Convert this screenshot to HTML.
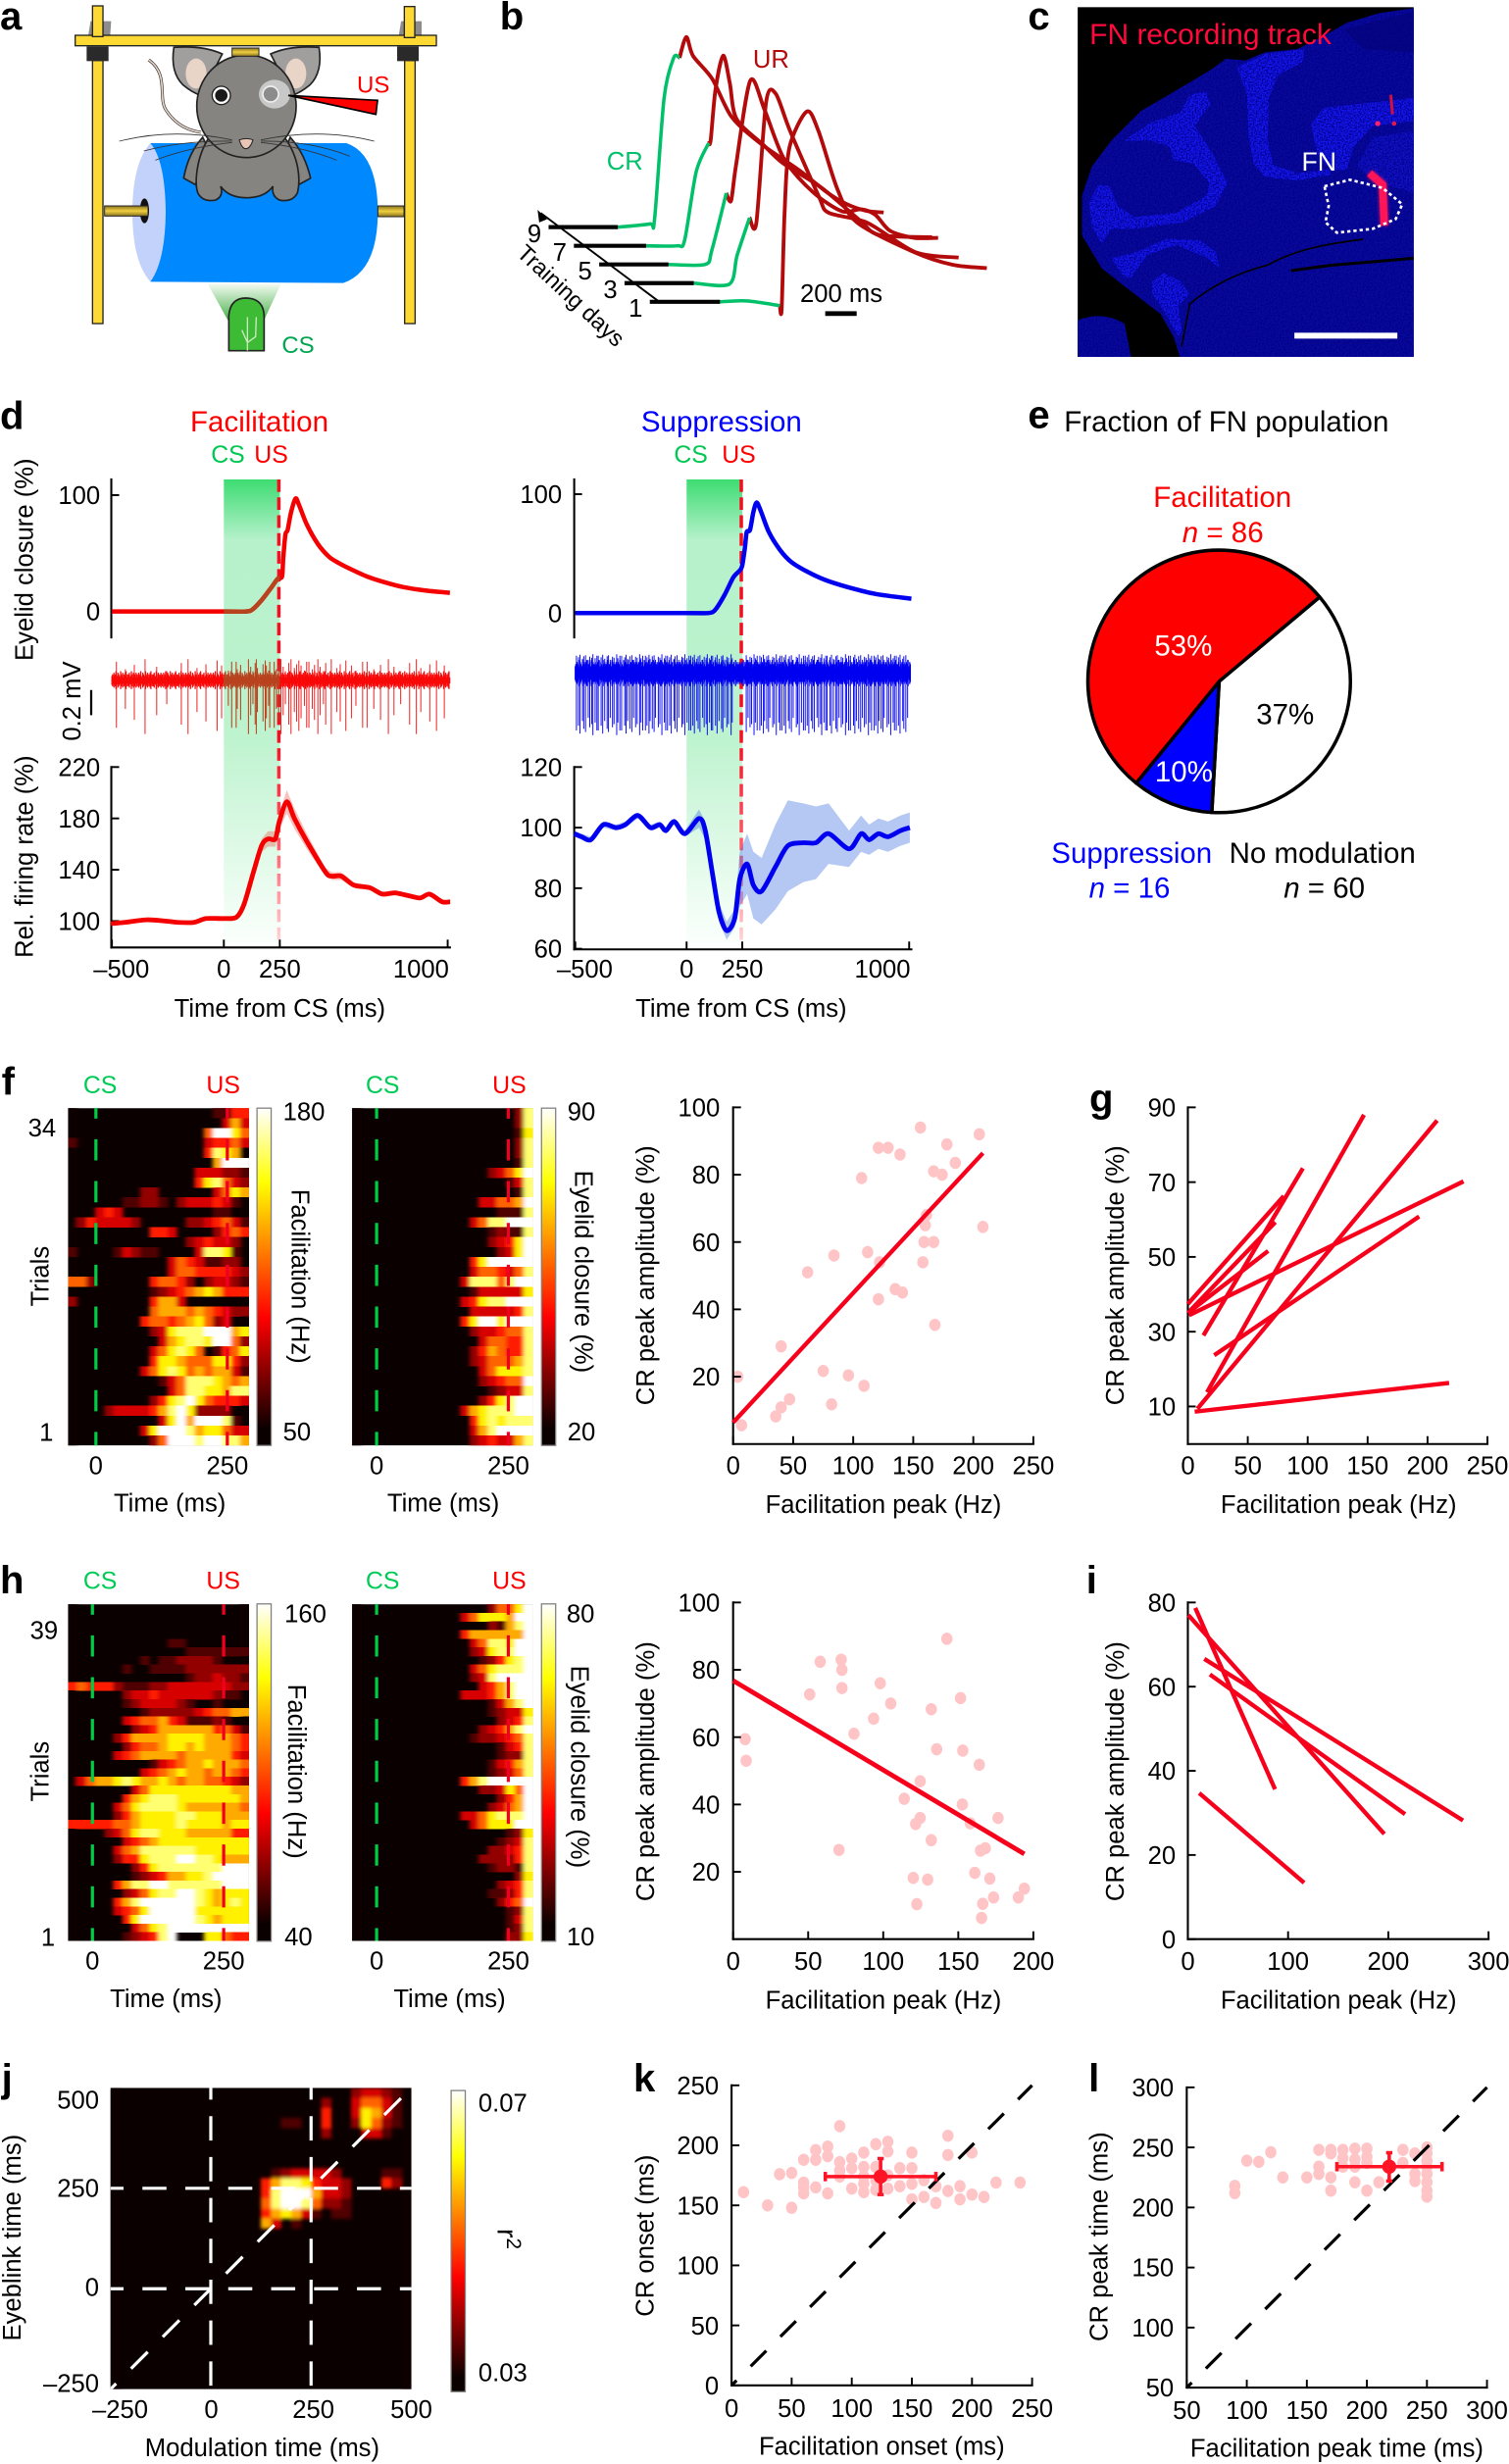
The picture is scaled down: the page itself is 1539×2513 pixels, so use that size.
<!DOCTYPE html>
<html lang="en">
<head>
<meta charset="utf-8">
<title>Cerebellar fastigial nucleus eyeblink conditioning figure</title>
<style>
html,body{margin:0;padding:0;background:#fff;}
svg{display:block;font-family:"Liberation Sans",sans-serif;}
text{fill:#000;font-size:16px;}
.letter{font-weight:bold;font-size:25px;}
</style>
</head>
<body>
<svg id="figure" xmlns="http://www.w3.org/2000/svg" width="1539" height="2513" viewBox="0 0 960 1567.6">
<defs>
<linearGradient id="csGrad" x1="0" y1="0" x2="0" y2="1"><stop offset="0" stop-color="#3ddc72"/><stop offset=".13" stop-color="#b6f1cb"/><stop offset=".55" stop-color="#bdf3ce"/><stop offset="1" stop-color="#fbfffc"/></linearGradient>
<linearGradient id="usGrad" gradientUnits="userSpaceOnUse" x1="0" y1="305" x2="0" y2="600"><stop offset="0" stop-color="#f01020"/><stop offset=".55" stop-color="#f01020"/><stop offset=".8" stop-color="#ff6070"/><stop offset="1" stop-color="#ffd8d8"/></linearGradient>
<linearGradient id="barGrad" x1="0" y1="0" x2="0" y2="1"><stop offset="0" stop-color="#fff"/><stop offset=".22" stop-color="#ff0"/><stop offset=".62" stop-color="#f00"/><stop offset=".95" stop-color="#0b0000"/></linearGradient>
<linearGradient id="coneGrad" x1="0" y1="0" x2="0" y2="1"><stop offset="0" stop-color="#f4fbf2"/><stop offset="1" stop-color="#43ad45"/></linearGradient>
<linearGradient id="goldGrad" x1="0" y1="0" x2="0" y2="1"><stop offset="0" stop-color="#8a7320"/><stop offset=".5" stop-color="#f0d040"/><stop offset="1" stop-color="#8a7320"/></linearGradient>
<filter id="blurX" x="-5%" y="0" width="110%" height="100%"><feGaussianBlur stdDeviation="1.3 0"/></filter>
<filter id="blurJ" x="-5%" y="-5%" width="110%" height="110%"><feGaussianBlur stdDeviation="1.15"/></filter>
<filter id="softRed" x="-50%" y="-50%" width="200%" height="200%"><feGaussianBlur stdDeviation="5"/></filter>
<filter id="speck" x="0" y="0" width="100%" height="100%"><feTurbulence type="fractalNoise" baseFrequency=".22" numOctaves="1" seed="4"/><feColorMatrix type="matrix" values="0 0 0 0 0  0 0 0 0 0  0 0 0 0 .25  0 0 0 3 -1.1"/></filter>
<clipPath id="tissueClip"><path d="M1055 25 L950 40 L850 70 L780 110 L700 150 L600 160 L540 185 L480 180 L440 210 L340 270 L220 340 L130 430 L70 510 L40 600 L40 720 L100 820 L150 860 L215 910 L280 960 L320 1030 L340 1092 L1055 1092Z M27 980 Q100 950 170 990 L190 1092 L27 1092Z"/></clipPath>
</defs>

<!-- panel letters -->
<text class="letter" x="0" y="18.7">a</text>
<text class="letter" x="318" y="18.7">b</text>
<text class="letter" x="654" y="18.7">c</text>
<text class="letter" x="0" y="273">d</text>
<text class="letter" x="654" y="272.4">e</text>
<text class="letter" x="1" y="696.6">f</text>
<text class="letter" x="693" y="707">g</text>
<text class="letter" x="0" y="1013.7">h</text>
<text class="letter" x="691" y="1013.7">i</text>
<text class="letter" x="1" y="1330.6">j</text>
<text class="letter" x="403" y="1330.6">k</text>
<text class="letter" x="692.5" y="1330.6">l</text>

<!-- panel a illustration -->
<g transform="translate(37.43 0) scale(0.20794)">
  <polygon points="455,868 680,868 625,985 520,985" fill="url(#coneGrad)"/>
  <path d="M280 438 Q225 500 225 650 Q225 800 280 862 Q330 800 330 650 Q330 490 280 438Z" fill="#c3d2fb"/>
  <path d="M280 438 L880 438 Q975 470 976 650 Q975 830 870 866 L280 862 Q325 800 327 650 Q325 490 280 438Z" fill="#0088ff"/>
  <ellipse cx="262" cy="645" rx="14" ry="38" fill="#111"/>
  <rect x="140" y="630" width="133" height="31" fill="url(#goldGrad)" stroke="#222" stroke-width="3"/>
  <rect x="976" y="630" width="80" height="33" fill="url(#goldGrad)" stroke="#222" stroke-width="3"/>
  <polygon points="97,65 160,65 155,140 85,140" fill="#8c8c8c"/>
  <polygon points="1047,65 1110,65 1110,110 1040,110" fill="#8c8c8c"/>
  <rect x="103" y="185" width="32" height="805" fill="#ffd933" stroke="#222" stroke-width="4"/>
  <rect x="1058" y="185" width="32" height="805" fill="#ffd933" stroke="#222" stroke-width="4"/>
  <rect x="50" y="108" width="1105" height="32" fill="#ffd933" stroke="#222" stroke-width="4"/>
  <rect x="103" y="18" width="32" height="94" fill="#ffd933" stroke="#222" stroke-width="4"/>
  <rect x="1057" y="20" width="32" height="95" fill="#ffd933" stroke="#222" stroke-width="4"/>
  <rect x="85" y="142" width="67" height="45" fill="#2a2a2a"/>
  <rect x="1035" y="142" width="66" height="45" fill="#2a2a2a"/>
  <path d="M275 183 C340 230 300 300 330 340 C360 385 400 400 435 405" fill="none" stroke="#333" stroke-width="9"/>
  <path d="M275 183 C340 230 300 300 330 340 C360 385 400 400 435 405" fill="none" stroke="#e8d5c8" stroke-width="5"/>
  <path d="M352 145 Q340 220 380 260 Q410 285 435 292 L500 165 Q440 138 352 145Z" fill="#a19e9e" stroke="#222" stroke-width="5"/>
  <ellipse cx="420" cy="225" rx="32" ry="46" fill="#e8d5c8"/>
  <path d="M796 145 Q808 220 768 260 Q738 285 713 292 L648 165 Q708 138 796 145Z" fill="#a19e9e" stroke="#222" stroke-width="5"/>
  <ellipse cx="725" cy="225" rx="32" ry="46" fill="#e8d5c8"/>
  <path d="M440 420 Q395 470 382 545 L418 565 L460 460 Z M708 420 Q753 470 770 545 L734 565 L690 460 Z" fill="#868480" stroke="#222" stroke-width="5"/>
  <path d="M460 420 C420 480 415 560 425 590 Q440 620 480 612 Q505 600 495 570 Q520 605 574 605 Q630 605 655 570 Q650 600 675 612 Q715 620 730 590 C740 550 735 480 690 420Z" fill="#868480" stroke="#222" stroke-width="5"/>
  <ellipse cx="574" cy="325" rx="152" ry="157" fill="#868480" stroke="#222" stroke-width="5"/>
  <circle cx="497" cy="292" r="28" fill="#fff" stroke="#222" stroke-width="4"/>
  <circle cx="497" cy="292" r="19" fill="#1a1a1a"/>
  <ellipse cx="660" cy="288" rx="48" ry="44" fill="#c8c8c8"/>
  <circle cx="648" cy="288" r="24" fill="#8c8c8c" stroke="#eee" stroke-width="5"/>
  <path d="M552 428 Q572 420 594 428 Q585 455 572 455 Q560 455 552 428Z" fill="#e8c5b5" stroke="#222" stroke-width="3"/>
  <path d="M530 428 Q350 390 185 432 M530 432 Q380 430 260 462 M530 436 Q400 450 295 490 M618 428 Q800 390 965 432 M618 432 Q770 430 890 478 M618 436 Q750 450 850 490" fill="none" stroke="#333" stroke-width="2.5"/>
  <polygon points="702,292 975,307 970,350" fill="#f00" stroke="#000" stroke-width="5"/>
  <rect x="530" y="147" width="82" height="25" fill="url(#goldGrad)" stroke="#222" stroke-width="3"/>
  <path d="M520 1073 L520 965 Q525 912 572 912 Q625 912 628 965 L628 1073Z" fill="#3dbb35" stroke="#222" stroke-width="5"/>
  <path d="M577 1073 L577 970 M577 1048 L560 1010 M577 1048 L602 1030 L604 970" fill="none" stroke="#cfe8c4" stroke-width="4"/>
  <text x="912" y="283" style="font-size:72px;fill:#f00">US</text>
  <text x="682" y="1080" style="font-size:72px;fill:#00a651">CS</text>
</g>

<!-- panel b static text -->
<g id="panelB"></g>
<text x="386" y="108" style="fill:#00c06a">CR</text>
<text x="479" y="43" style="fill:#b30b0b">UR</text>
<text transform="translate(328 162) rotate(43)" style="font-size:14.6px">Training days</text>
<text x="509" y="192">200 ms</text>
<rect x="525" y="198" width="20" height="3"/>

<!-- panel c histology -->
<g transform="translate(680 0) scale(0.20794)">
  <rect x="27" y="22" width="1028" height="1070" fill="#000"/>
  <path d="M1055 25 L950 40 L850 70 L780 110 L700 150 L600 160 L540 185 L480 180 L440 210 L340 270 L220 340 L130 430 L70 510 L40 600 L40 720 L100 820 L150 860 L215 910 L280 960 L320 1030 L340 1092 L1055 1092Z M27 980 Q100 950 170 990 L190 1092 L27 1092Z" fill="#0a0a9c"/>
  <path d="M840 90 L1055 35 L1055 160 L900 150Z" fill="#07077e"/>
  <path d="M515 205 L600 165 L720 150 L715 190 L640 230 L612 300 L608 430 L625 505 L700 530 L800 518 L800 535 L700 552 L600 542 L565 500 L550 420 L545 290Z" fill="#1717f4"/>
  <path d="M740 380 L780 330 L1055 300 L1055 370 L930 385 L870 450 L850 520 L800 520 L760 470Z" fill="#1717f4"/>
  <path d="M930 420 L1055 400 L1055 590 L950 560 L880 510Z" fill="#1212c8"/>
  <path d="M170 430 L250 375 L340 345 L370 290 L420 280 L432 320 L385 385 L440 470 L485 560 L450 630 L350 680 L200 700 L130 700 L100 745 L70 690 L62 620 L90 565 L125 570 L150 630 L200 665 L330 650 L420 600 L430 560 L380 500 L320 490 L310 450 L250 430Z" fill="#1717f4"/>
  <path d="M130 790 L170 850 L190 850 L240 780 L330 750 L425 790 L460 820 L450 770 L400 735 L300 730 L210 770Z" fill="#1717f4"/>
  <path d="M255 860 L290 835 L340 860 L370 900 L335 935 L345 1010 L335 1030 L290 950 L255 900Z" fill="#1717f4"/>
  <g clip-path="url(#tissueClip)"><rect x="27" y="22" width="1028" height="1070" filter="url(#speck)"/></g>
  <path d="M345 1060 L370 930 C430 880 500 840 610 810 C700 760 800 745 900 732" fill="none" stroke="#000" stroke-width="5"/>
  <path d="M680 828 L800 812 L1055 790" fill="none" stroke="#000" stroke-width="9"/>
  <path d="M920 530 L960 565 L965 690" fill="none" stroke="#ff1458" stroke-width="24" filter="url(#softRed)"/>
  <path d="M920 530 L960 565 L965 690" fill="none" stroke="#ff1458" stroke-width="22" stroke-linejoin="round"/>
  <path d="M985 290 L990 350" fill="none" stroke="#d01040" stroke-width="9"/>
  <circle cx="945" cy="378" r="8" fill="#ff1f6a"/>
  <circle cx="995" cy="378" r="7" fill="#e01a50"/>
  <path d="M782 570 L860 550 L960 575 L1020 625 L1000 670 L930 700 L820 712 L785 680 L795 630Z" fill="none" stroke="#fff" stroke-width="8" stroke-dasharray="10 9"/>
  <rect x="690" y="1018" width="315" height="18" fill="#fff"/>
  <text x="63" y="135" style="font-size:90px;fill:#ff0a3c">FN recording track</text>
  <text x="712" y="522" style="font-size:80px;fill:#fff">FN</text>
</g>

<!-- panel d static text -->
<text x="165" y="274.5" text-anchor="middle" style="font-size:18.4px;fill:#f00">Facilitation</text>
<text x="459" y="274.5" text-anchor="middle" style="font-size:18.4px;fill:#00f">Suppression</text>
<text x="145" y="294.3" text-anchor="middle" style="font-size:15.5px;fill:#00c853">CS</text>
<text x="172.5" y="294.3" text-anchor="middle" style="font-size:15.5px;fill:#f00">US</text>
<text x="439.5" y="294.3" text-anchor="middle" style="font-size:15.5px;fill:#00c853">CS</text>
<text x="470" y="294.3" text-anchor="middle" style="font-size:15.5px;fill:#f00">US</text>
<text transform="translate(21 356) rotate(-90)" text-anchor="middle">Eyelid closure (%)</text>
<text transform="translate(21 545) rotate(-90)" text-anchor="middle">Rel. firing rate (%)</text>
<text transform="translate(51 446) rotate(-90)" text-anchor="middle">0.2 mV</text>
<rect x="57.3" y="439" width="1.4" height="16"/>
<text x="178" y="647" text-anchor="middle">Time from CS (ms)</text>
<text x="471.5" y="647" text-anchor="middle">Time from CS (ms)</text>
<g id="panelD"></g>

<!-- panel e -->
<text x="677" y="274.4" style="font-size:18.4px">Fraction of FN population</text>
<g id="panelE"></g>
<text x="777.7" y="322.5" text-anchor="middle" style="font-size:18.4px;fill:#f00">Facilitation</text>
<text x="778" y="345" text-anchor="middle" style="font-size:18.4px;fill:#f00"><tspan font-style="italic">n</tspan> = 86</text>
<text x="720" y="549" text-anchor="middle" style="font-size:18.4px;fill:#00f">Suppression</text>
<text x="718.6" y="571" text-anchor="middle" style="font-size:18.4px;fill:#00f"><tspan font-style="italic">n</tspan> = 16</text>
<text x="841.3" y="549" text-anchor="middle" style="font-size:18.4px">No modulation</text>
<text x="842.5" y="571" text-anchor="middle" style="font-size:18.4px"><tspan font-style="italic">n</tspan> = 60</text>

<!-- heatmap and scatter containers -->
<g id="panelF"></g>
<g id="panelFS"></g>
<g id="panelG"></g>
<g id="panelH"></g>
<g id="panelHS"></g>
<g id="panelI"></g>
<g id="panelJ"></g>
<g id="panelK"></g>
<g id="panelL"></g>

<text transform="translate(31 812) rotate(-90)" text-anchor="middle">Trials</text>
<text transform="translate(31 1127) rotate(-90)" text-anchor="middle">Trials</text>
<text transform="translate(185.5 812) rotate(90)" text-anchor="middle">Facilitation (Hz)</text>
<text transform="translate(366 809) rotate(90)" text-anchor="middle">Eyelid closure (%)</text>
<text transform="translate(183.5 1127) rotate(90)" text-anchor="middle">Facilitation (Hz)</text>
<text transform="translate(363.5 1124) rotate(90)" text-anchor="middle">Eyelid closure (%)</text>
<text x="108" y="961.7" text-anchor="middle">Time (ms)</text>
<text x="282" y="961.7" text-anchor="middle">Time (ms)</text>
<text x="105.6" y="1276.8" text-anchor="middle">Time (ms)</text>
<text x="286" y="1276.8" text-anchor="middle">Time (ms)</text>
<text transform="translate(416 811.4) rotate(-90)" text-anchor="middle">CR peak amplitude (%)</text>
<text transform="translate(715 811.4) rotate(-90)" text-anchor="middle">CR peak amplitude (%)</text>
<text transform="translate(416 1127) rotate(-90)" text-anchor="middle">CR peak amplitude (%)</text>
<text transform="translate(715 1127) rotate(-90)" text-anchor="middle">CR peak amplitude (%)</text>
<text x="562" y="962.6" text-anchor="middle">Facilitation peak (Hz)</text>
<text x="851.6" y="962.6" text-anchor="middle">Facilitation peak (Hz)</text>
<text x="562" y="1277.8" text-anchor="middle">Facilitation peak (Hz)</text>
<text x="851.6" y="1277.8" text-anchor="middle">Facilitation peak (Hz)</text>
<text x="166.8" y="1562.7" text-anchor="middle">Modulation time (ms)</text>
<text transform="translate(13 1423.6) rotate(-90)" text-anchor="middle">Eyeblink time (ms)</text>
<text transform="translate(316.5 1424.4) rotate(90)" text-anchor="middle" style="font-size:18px">r<tspan font-size="13" dy="-6">2</tspan></text>
<text x="561" y="1561.7" text-anchor="middle">Facilitation onset (ms)</text>
<text transform="translate(415.7 1422.4) rotate(-90)" text-anchor="middle">CR onset (ms)</text>
<text x="850.5" y="1563" text-anchor="middle">Facilitation peak time (ms)</text>
<text transform="translate(704.7 1423) rotate(-90)" text-anchor="middle">CR peak time (ms)</text>
</svg>

<script>
/* ---------- panel b data ---------- */
const dayLabels=[9,7,5,3,1];
const dayTimes=[
[0,450,656,688,750,812,850,894,938,1062,1188,1375,1625,1812,1938,2062,2175],
[0,469,669,719,794,875,888,919,969,1012,1056,1231,1356,1606,1856,1981,2325],
[0,450,688,731,825,856,888,981,1075,1200,1388,1575,1700,1794,1888,2044,2200],
[0,450,681,731,812,856,919,981,1075,1262,1325,1575,1888,2169],
[0,456,625,844,856,875,906,1019,1094,1219,1344,1719,1969,2188]];
const dayClosure=[
[0,0,1.7,4.3,68,89,89,100,90,78,58,44,30,18,12,8.6,7.7],
[0,0,0,3,39,54,55.5,82,100,85.6,66.7,53,43.5,30.6,13.4,5.7,4.5],
[0,0,0,7.4,37.5,33.5,52,96.7,81,55.5,38,28,29,26,17.7,14,14],
[0,0,-0.5,14.6,34.4,31.8,95,99.7,80,45.5,37,31.8,16.3,13.4],
[0,0,0.5,-2,-3.8,47,81,100,90,59,41.8,26,19.4,17.7]];
const dayCsOnset=[450,469,450,450,456];
const dayUsOnset=[850,875,825,812,844];

/* ---------- panel d data ---------- */
const eyeTimesF=[-500,0,100,130,170,210,240,260,265,275,285,300,320,335,370,420,470,510,560,640,720,800,900,1010];
const eyeValuesF=[0,0,0,2,10,20,28,30,45,66,70,85,97,92,75,58,47,42,37,30,25,21,18,16];
const eyeTimesS=[-500,0,100,130,170,210,240,250,262,270,285,300,315,335,370,420,470,540,620,720,850,1010];
const eyeValuesS=[0,0,0,3,15,30,36,40,55,68,70,85,93,85,68,53,43,35,28,22,16,12];
const rateTimesF=[-505,-444,-345,-261,-205,-135,-79,0,56,90,132,169,197,230,247,281,315,371,455,483,525,581,652,708,764,820,876,919,975,1011];
const rateValuesF=[98,99,101,100,99,99,102,102,103,113,138,159,164,164,177,193,180,162,138,135,135,128,126,121,122,120,118,121,115,115];
const rateErrorF=[1,1,1,1,1,1,1,1,1,2,3,5,6,6,6,9,8,6,3,3,3,2,2,2,2,1.5,1.5,1.5,1.5,1.5];
const rateTimesS=[-505,-472,-430,-374,-317,-275,-219,-163,-121,-93,-56,-8,56,84,118,146,180,216,239,272,300,337,399,455,525,581,638,730,784,820,862,905,961,1003];
const rateValuesS=[98,97,96,101,100,101,104,100,101,99,102,98,103,99,84,72,66,70,83,88,81,79,87,94,95,95,98,93,98,96,98,97,99,100];
const rateErrorS=[1,1,1,1,1,1,1,1,1,1,1,1,3,3,3,3,3,3,9,10,11,11,14,15,13,12,10,6,6,5,5,5,5,5];
const spikeTimesF=[-480,-440,-400,-352,-300,-255,-190,-160,-120,-80,-30,-10,20,35,55,60,75,110,120,130,140,145,150,175,185,190,200,205,225,235,245,255,265,275,290,300,315,325,335,345,360,370,380,395,405,420,430,445,455,480,505,520,545,570,590,620,640,670,700,735,760,790,830,860,880,920,950,985];
const spikeDepthF=[30,18,25,34,22,15,28,34,20,26,32,24,16,30];
const spikeIntervalS=[9,7,11,6,8,12,7,9,5,10,8,6,13,7,9,11,6,8,10,7,12,5,9,8,14,6,7,10,9,8];
const spikeDepthS=[36,33,38,30,35,37,28,34,32,39,31,36];
const noiseAmp=[3,4,2,5,3,4,6,2,3,5,4,3,2,6,4,3,5,2,4,3,5,6,2,4,3,4,5,2,3,6,4,2,5,3,4,2,5];
const eyeTicks=[0,100];
const rateTicksF=[100,140,180,220];
const rateTicksS=[60,80,100,120];
const timeTicks=[-500,0,250,1000];

/* ---------- panel e data ---------- */
const pieNames=['No modulation','Suppression','Facilitation'];
const piePercents=[37,10,53];
const pieColors=['#fff','#00f','#f00'];
const pieTextColors=['#000','#fff','#fff'];

/* ---------- heatmap data (0 = black ... 9 = white) ---------- */
const heatFacilitationF=[
[0,0,0,0,0,0,0,0,0,0,0,0,0,0,0,0,1,1,4,4],
[0,0,0,0,0,0,0,0,0,0,0,0,0,0,0,0,0,3,6,3],
[0,0,0,0,0,0,0,0,0,0,0,0,0,0,0,5,9,9,7,5],
[1,0,0,0,0,0,0,0,0,0,0,0,0,0,0,3,4,4,5,3],
[0,0,0,0,0,0,0,0,0,0,0,0,0,0,0,4,8,7,6,0],
[0,0,0,0,0,0,0,0,0,0,0,0,0,0,0,0,6,9,9,9],
[0,0,0,0,0,0,0,0,0,0,0,0,0,0,3,3,3,2,2,1],
[0,0,0,0,0,0,0,0,0,0,0,0,0,0,4,7,8,5,3,2],
[0,0,0,0,0,0,0,0,2,2,0,0,0,0,0,0,3,5,7,6],
[0,0,0,0,0,0,1,1,2,2,1,0,2,3,3,3,4,3,1,0],
[0,0,0,3,4,3,0,0,0,0,0,0,0,0,0,0,1,1,0,0],
[0,2,4,3,3,3,3,2,0,0,0,0,0,2,2,3,4,5,3,1],
[0,0,0,0,0,0,0,0,0,4,4,3,0,0,0,0,2,4,5,4],
[0,0,0,0,0,0,0,0,0,0,0,0,0,2,3,4,3,3,2,0],
[1,0,0,0,0,1,3,2,1,1,0,0,0,0,3,8,8,7,1,0],
[0,0,0,0,0,0,0,0,0,0,0,3,5,4,3,1,1,2,2,0],
[0,0,0,0,0,0,0,0,0,0,0,3,5,5,4,4,4,4,3,2],
[5,5,2,0,0,0,0,0,0,4,5,5,4,2,0,2,3,3,2,1],
[0,0,0,0,0,0,0,0,0,1,2,3,4,5,6,7,6,4,4,4],
[2,0,0,0,0,0,0,0,0,4,6,6,3,0,0,0,0,0,0,0],
[0,0,0,0,0,0,0,0,0,5,6,6,6,5,6,5,4,3,2,2],
[0,0,0,0,0,0,0,0,4,5,5,4,5,6,7,5,2,3,0,0],
[0,0,0,0,0,0,0,0,0,2,3,7,8,8,8,9,9,9,6,7],
[0,0,0,0,0,0,0,0,0,0,3,6,7,8,8,7,9,9,5,2],
[0,0,0,0,0,0,0,0,0,3,5,7,8,7,5,0,1,4,5,7],
[0,0,0,0,0,0,0,0,0,4,7,7,6,5,5,5,7,7,4,2],
[0,0,0,0,0,0,0,0,3,5,7,8,7,5,6,5,6,6,3,1],
[0,0,0,0,0,0,0,0,0,0,1,3,5,8,8,8,7,6,5,6],
[0,0,0,0,0,0,0,0,0,0,0,3,5,8,8,7,7,6,8,8],
[0,0,0,0,0,0,0,0,0,2,4,7,8,9,7,5,4,4,4,3],
[0,0,0,0,2,3,3,3,3,4,6,8,9,7,2,2,2,2,0,0],
[0,0,0,0,0,0,0,0,0,0,3,7,9,6,9,9,9,8,1,0],
[0,0,0,0,0,0,0,0,3,7,9,9,9,8,6,7,7,5,3,3],
[0,0,0,0,0,0,0,0,0,2,5,9,9,9,8,9,9,8,8,6]];
const heatEyelidF=[
[0,0,0,0,0,0,0,0,0,0,0,0,0,0,0,0,0,0,2,8],
[0,0,0,0,0,0,0,0,0,0,0,0,0,0,0,0,0,0,2,8],
[0,0,0,0,0,0,0,0,0,0,0,0,0,0,0,0,0,0,1,7],
[0,0,0,0,0,0,0,0,0,0,0,0,0,0,0,0,0,0,2,8],
[0,0,0,0,0,0,0,0,0,0,0,0,0,0,0,0,0,0,2,8],
[0,0,0,0,0,0,0,0,0,0,0,0,0,0,0,0,0,0,1,8],
[0,0,0,0,0,0,0,0,0,0,0,0,0,0,0,2,3,5,7,9],
[0,0,0,0,0,0,0,0,0,0,0,0,0,0,0,0,0,1,3,8],
[0,0,0,0,0,0,0,0,0,0,0,0,0,0,0,0,0,0,1,8],
[0,0,0,0,0,0,0,0,0,0,0,0,0,0,3,3,5,5,6,9],
[0,0,0,0,0,0,0,0,0,0,0,0,0,0,0,0,1,1,1,8],
[0,0,0,0,0,0,0,0,0,0,0,0,0,3,5,8,8,9,9,9],
[0,0,0,0,0,0,0,0,0,0,0,0,0,0,0,1,2,1,1,8],
[0,0,0,0,0,0,0,0,0,0,0,0,0,0,0,2,3,4,7,9],
[0,0,0,0,0,0,0,0,0,0,0,0,0,0,0,0,2,3,7,9],
[0,0,0,0,0,0,0,0,0,0,0,0,0,4,7,9,9,9,9,9],
[0,0,0,0,0,0,0,0,0,0,0,0,0,3,5,5,4,3,5,8],
[0,0,0,0,0,0,0,0,0,0,0,0,3,8,8,8,5,8,9,9],
[0,0,0,0,0,0,0,0,0,0,0,0,0,1,3,3,3,3,3,7],
[0,0,0,0,0,0,0,0,0,0,0,0,3,4,7,8,8,9,9,9],
[0,0,0,0,0,0,0,0,0,0,0,0,0,3,3,3,3,3,4,8],
[0,0,0,0,0,0,0,0,0,0,0,0,4,7,9,9,7,9,9,9],
[0,0,0,0,0,0,0,0,0,0,0,0,0,2,3,3,4,5,5,8],
[0,0,0,0,0,0,0,0,0,0,0,0,0,0,3,5,5,4,4,8],
[0,0,0,0,0,0,0,0,0,0,0,0,0,2,4,6,5,4,4,8],
[0,0,0,0,0,0,0,0,0,0,0,0,0,2,3,5,5,5,6,8],
[0,0,0,0,0,0,0,0,0,0,0,0,0,0,3,5,7,7,7,8],
[0,0,0,0,0,0,0,0,0,0,0,0,0,0,2,3,4,5,5,9],
[0,0,0,0,0,0,0,0,0,0,0,0,0,0,0,1,2,3,3,8],
[0,0,0,0,0,0,0,0,0,0,0,0,0,0,2,4,7,8,9,9],
[0,0,0,0,0,0,0,0,0,0,0,0,3,6,7,8,8,8,9,9],
[0,0,0,0,0,0,0,0,0,0,0,0,0,4,7,8,7,8,8,8],
[0,0,0,0,0,0,0,0,0,0,0,0,0,3,6,8,9,9,9,9],
[0,0,0,0,0,0,0,0,0,0,0,0,0,2,3,4,3,3,6,8]];
const heatFacilitationH=[
[0,0,0,0,0,0,0,0,0,0,0,0,0,0,0,0,0,0,0,0],
[0,0,0,0,0,0,0,0,0,0,0,0,0,0,0,0,0,0,0,0],
[0,0,0,0,0,0,0,0,0,0,0,0,0,0,0,0,0,0,0,0],
[0,0,0,0,0,0,0,0,0,0,0,0,0,0,0,0,0,0,0,0],
[0,0,0,0,0,0,0,0,0,0,0,1,1,0,0,0,0,0,0,0],
[0,0,0,0,0,0,0,0,0,0,0,0,0,1,1,1,1,1,1,1],
[0,0,0,0,0,0,0,0,1,0,1,1,2,2,2,2,1,0,0,0],
[0,0,0,0,0,0,1,0,0,1,1,1,1,2,2,2,2,2,2,2],
[0,0,0,0,0,0,0,0,0,0,0,0,0,1,2,2,3,2,2,1],
[4,5,4,4,4,2,1,1,1,2,2,3,3,3,3,3,3,3,2,2],
[0,0,0,0,0,0,2,3,3,4,3,3,3,3,3,3,2,1,1,0],
[0,0,0,0,0,0,1,2,3,3,3,3,2,1,0,0,1,0,0,0],
[0,0,0,0,0,0,0,0,1,2,2,2,2,2,3,4,5,5,6,6],
[0,0,0,0,0,0,3,4,5,5,6,4,3,1,1,1,2,1,0,0],
[0,0,0,0,0,0,0,2,3,4,6,6,6,6,6,6,4,5,3,1],
[0,0,0,0,0,2,4,6,6,6,6,7,7,7,7,6,6,6,5,4],
[0,0,0,0,0,0,2,4,5,5,6,7,7,6,7,6,6,6,5,4],
[0,0,0,0,0,3,4,5,6,6,6,6,5,6,6,6,6,6,4,3],
[0,0,0,0,0,0,0,0,0,1,3,4,5,6,6,7,6,6,6,5],
[0,0,0,0,0,0,0,0,3,4,5,6,7,6,6,5,6,6,5,4],
[0,3,5,6,6,7,8,7,6,6,7,6,5,6,6,5,5,4,3,2],
[0,0,0,0,0,0,0,3,5,7,7,7,7,7,7,7,7,7,6,6],
[0,0,0,0,0,0,4,6,7,8,8,8,7,7,7,7,7,7,7,6],
[0,0,0,0,0,3,5,7,8,8,8,8,7,6,6,6,6,6,6,5],
[0,0,0,0,0,2,4,6,7,7,7,7,8,8,7,7,7,6,6,6],
[4,4,4,4,4,5,5,6,7,7,7,7,8,7,7,7,7,6,7,7],
[0,0,0,0,2,3,5,7,8,8,7,7,7,6,6,6,6,6,4,4],
[0,0,0,0,0,0,3,4,5,6,7,7,7,7,7,7,7,7,7,7],
[0,0,0,0,0,3,5,6,8,8,8,8,8,8,7,7,7,7,7,7],
[0,0,0,0,0,2,4,4,7,8,8,8,9,9,8,8,7,6,6,6],
[0,0,0,0,0,0,0,2,4,7,8,8,8,8,8,8,8,9,9,9],
[0,0,0,0,0,0,0,1,2,3,4,6,6,7,7,8,9,9,9,9],
[0,0,0,0,0,4,6,8,8,9,9,8,8,8,8,8,8,9,9,9],
[0,0,0,0,0,0,2,3,5,7,8,8,9,9,8,7,6,7,7,7],
[0,0,0,0,0,4,6,8,9,9,9,9,9,9,8,7,6,7,8,7],
[0,0,0,0,0,3,4,5,7,9,9,9,9,9,7,7,7,7,7,7],
[0,0,0,0,0,0,4,7,9,9,9,9,9,9,8,7,6,7,7,7],
[0,0,0,0,0,0,0,3,5,7,8,9,9,9,9,9,9,9,9,9],
[0,0,0,0,0,0,1,2,3,4,8,9,0,0,0,7,7,5,4,4]];
const heatEyelidH=[
[0,0,0,0,0,0,0,0,0,0,0,0,0,0,0,2,5,5,7,9],
[0,0,0,0,0,0,0,0,0,0,0,0,3,5,7,7,7,6,9,9],
[0,0,0,0,0,0,0,0,0,0,0,0,0,0,0,2,1,6,8,9],
[0,0,0,0,0,0,0,0,0,0,0,0,4,6,6,6,6,6,6,9],
[0,0,0,0,0,0,0,0,0,0,0,0,0,3,5,8,8,7,9,9],
[0,0,0,0,0,0,0,0,0,0,0,0,0,2,3,7,8,8,9,9],
[0,0,0,0,0,0,0,0,0,0,0,0,0,0,1,2,4,7,8,9],
[0,0,0,0,0,0,0,0,0,0,0,0,0,3,5,7,8,8,8,9],
[0,0,0,0,0,0,0,0,0,0,0,0,0,2,3,8,9,9,9,9],
[0,0,0,0,0,0,0,0,0,0,0,0,0,0,3,4,6,8,9,9],
[0,0,0,0,0,0,0,0,0,0,0,0,3,3,3,4,6,8,9,9],
[0,0,0,0,0,0,0,0,0,0,0,0,0,0,0,1,3,6,8,9],
[0,0,0,0,0,0,0,0,0,0,0,0,0,0,0,1,2,3,3,7],
[0,0,0,0,0,0,0,0,0,0,0,0,0,0,0,0,2,3,4,8],
[0,0,0,0,0,0,0,0,0,0,0,0,0,0,2,3,4,6,8,9],
[0,0,0,0,0,0,0,0,0,0,0,0,0,1,2,2,3,4,5,8],
[0,0,0,0,0,0,0,0,0,0,0,0,0,0,0,0,1,3,4,8],
[0,0,0,0,0,0,0,0,0,0,0,0,0,0,0,0,1,2,2,8],
[0,0,0,0,0,0,0,0,0,0,0,0,0,0,0,1,3,4,6,8],
[0,0,0,0,0,0,0,0,0,0,0,0,0,0,0,1,2,3,5,8],
[0,0,0,0,0,0,0,0,0,0,0,0,4,6,8,9,9,9,9,9],
[0,0,0,0,0,0,0,0,0,0,0,0,0,0,2,2,3,7,5,9],
[0,0,0,0,0,0,0,0,0,0,0,0,0,0,0,0,2,4,6,9],
[0,0,0,0,0,0,0,0,0,0,0,0,0,0,0,2,3,5,6,9],
[0,0,0,0,0,0,0,0,0,0,0,0,3,3,5,7,8,8,8,9],
[0,0,0,0,0,0,0,0,0,0,0,0,0,3,5,7,7,7,9,9],
[0,0,0,0,0,0,0,0,0,0,0,0,0,0,0,0,0,1,2,7],
[0,0,0,0,0,0,0,0,0,0,0,0,0,0,0,0,1,2,3,8],
[0,0,0,0,0,0,0,0,0,0,0,0,0,0,0,2,2,3,4,8],
[0,0,0,0,0,0,0,0,0,0,0,0,0,0,2,2,2,2,4,8],
[0,0,0,0,0,0,0,0,0,0,0,0,0,0,0,1,2,2,1,8],
[0,0,0,0,0,0,0,0,0,0,0,0,0,0,0,0,0,0,2,7],
[0,0,0,0,0,0,0,0,0,0,0,0,0,0,0,0,2,3,4,8],
[0,0,0,0,0,0,0,0,0,0,0,0,0,0,0,1,1,2,4,8],
[0,0,0,0,0,0,0,0,0,0,0,0,0,0,0,0,2,4,5,9],
[0,0,0,0,0,0,0,0,0,0,0,0,0,0,0,0,0,1,2,8],
[0,0,0,0,0,0,0,0,0,0,0,0,0,0,0,0,0,1,3,8],
[0,0,0,0,0,0,0,0,0,0,0,0,0,0,0,0,0,1,2,8],
[0,0,0,0,0,0,0,0,0,0,0,0,0,0,0,0,0,2,2,7]];
const heatCorrelation=[
[0,0,0,0,0,0,0,0,0,0,0,0,0,0,0,0,0,0,0,0,0,0,0,0,2,3,3,2,1,0],
[0,0,0,0,0,0,0,0,0,0,0,0,0,0,0,0,0,0,0,0,0,2,0,0,3,5,5,3,1,0],
[0,0,0,0,0,0,0,0,0,0,0,0,0,0,0,0,0,0,0,0,0,4,0,0,3,7,6,3,1,0],
[0,0,0,0,0,0,0,0,0,0,0,0,0,0,0,0,0,1,1,0,0,4,0,0,2,7,5,2,1,0],
[0,0,0,0,0,0,0,0,0,0,0,0,0,0,0,0,0,0,0,0,0,2,0,0,0,3,3,1,0,0],
[0,0,0,0,0,0,0,0,0,0,0,0,0,0,0,0,0,0,0,0,0,0,0,0,0,0,0,0,0,0],
[0,0,0,0,0,0,0,0,0,0,0,0,0,0,0,0,0,0,0,0,0,0,0,0,0,0,0,0,0,0],
[0,0,0,0,0,0,0,0,0,0,0,0,0,0,0,0,0,0,0,0,0,0,0,0,0,0,0,0,0,0],
[0,0,0,0,0,0,0,0,0,0,0,0,0,0,0,0,1,2,3,3,3,3,2,0,0,0,0,1,1,0],
[0,0,0,0,0,0,0,0,0,0,0,0,0,0,0,4,6,8,8,7,4,3,3,2,0,0,0,4,2,0],
[0,0,0,0,0,0,0,0,0,0,0,0,0,0,0,4,8,9,9,9,6,3,3,2,0,0,0,0,0,0],
[0,0,0,0,0,0,0,0,0,0,0,0,0,0,0,5,8,9,9,8,5,2,2,1,0,0,0,0,0,0],
[0,0,0,0,0,0,0,0,0,0,0,0,0,0,0,4,6,7,6,3,1,0,1,1,0,0,0,0,0,0],
[0,0,0,0,0,0,0,0,0,0,0,0,0,0,0,6,3,0,1,0,0,0,0,0,0,0,0,0,0,0],
[0,0,0,0,0,0,0,0,0,0,0,0,0,0,0,0,0,0,0,0,0,0,0,0,0,0,0,0,0,0],
[0,0,0,0,0,0,0,0,0,0,0,0,0,0,0,0,0,0,0,0,0,0,0,0,0,0,0,0,0,0],
[0,0,0,0,0,0,0,0,0,0,0,0,0,0,0,0,0,0,0,0,0,0,0,0,0,0,0,0,0,0],
[0,0,0,0,0,0,0,0,0,0,0,0,0,0,0,0,0,0,0,0,0,0,0,0,0,0,0,0,0,0],
[0,0,0,0,0,0,0,0,0,0,0,0,0,0,0,0,0,0,0,0,0,0,0,0,0,0,0,0,0,0],
[0,0,0,0,0,0,0,0,0,0,0,0,0,0,0,0,0,0,0,0,0,0,0,0,0,0,0,0,0,0],
[0,0,0,0,0,0,0,0,0,0,0,0,0,0,0,0,0,0,0,0,0,0,0,0,0,0,0,0,0,0],
[0,0,0,0,0,0,0,0,0,0,0,0,0,0,0,0,0,0,0,0,0,0,0,0,0,0,0,0,0,0],
[0,0,0,0,0,0,0,0,0,0,0,0,0,0,0,0,0,0,0,0,0,0,0,0,0,0,0,0,0,0],
[0,0,0,0,0,0,0,0,0,0,0,0,0,0,0,0,0,0,0,0,0,0,0,0,0,0,0,0,0,0],
[0,0,0,0,0,0,0,0,0,0,0,0,0,0,0,0,0,0,0,0,0,0,0,0,0,0,0,0,0,0],
[0,0,0,0,0,0,0,0,0,0,0,0,0,0,0,0,0,0,0,0,0,0,0,0,0,0,0,0,0,0],
[0,0,0,0,0,0,0,0,0,0,0,0,0,0,0,0,0,0,0,0,0,0,0,0,0,0,0,0,0,0],
[0,0,0,0,0,0,0,0,0,0,0,0,0,0,0,0,0,0,0,0,0,0,0,0,0,0,0,0,0,0],
[0,0,0,0,0,0,0,0,0,0,0,0,0,0,0,0,0,0,0,0,0,0,0,0,0,0,0,0,0,0],
[0,0,0,0,0,0,0,0,0,0,0,0,0,0,0,0,0,0,0,0,0,0,0,0,0,0,0,0,0,0]];

/* ---------- scatter data ---------- */
const fsPeak=[3.8,7,35.5,40,47,40,62,75,82,84,96,109,107,112,121,129,139,121,122,135,141,156,158,159,160,161,167,167,168,174,178,185,205,208];
const fsAmp=[20,5.6,8.2,10.9,13.3,29,51,21.7,11.8,56,20.4,17.3,79,57,88,88,86,43,54,46,45,94,54,60,65,68,60,81,35.4,80,89,83.5,92,64.5];
const fsFitX=[0,208];
const fsFitY=[6.4,86.4];
const gFitX0=[5.7,8,16,22,1,13,0,2,0];
const gFitX1=[218,208,147,193,230,96,80,73,67];
const gFitY0=[8.6,9.4,13.8,23.7,34.4,29,37.4,35.7,35];
const gFitY1=[16.3,86.5,88,60.8,70.2,73.7,66.3,59.3,51.6];
const hsPeak=[8,8.7,51,58,72,72.5,72.5,70.5,80.5,93.6,98,105,114,120,122.4,121.6,124.6,124.6,129.6,132,132,135.6,142.4,151.5,153,152.7,158,161,164,164.8,168,165.5,166.3,171,173.5,176.5,190,194];
const hsAmp=[59.4,53,72.7,82.4,83,80,74.6,26.5,61,65.5,76,70,41.7,18.2,10.4,34.2,36,46.9,17.7,68.3,29.4,56.4,89.2,71.6,56,40,34.4,19.7,51.8,26.3,27,6.3,10.5,18,12.4,36,12.4,15];
const hsFitX=[0,194];
const hsFitY=[76.8,25.3];
const iFitX0=[0.5,7.4,16.4,22,11.3];
const iFitX1=[196,87,274.5,216.7,116];
const iFitY0=[77,78.7,66.6,62.9,34.7];
const iFitY1=[25,35.6,28.2,29.7,13.4];
const kOnsetFac=[10,30,40,50,50,60,60,60,60,70,70,70,80,80,80,90,90,90,90,100,100,100,110,110,110,110,110,120,120,120,120,130,130,130,130,140,140,150,150,150,150,160,160,170,170,180,180,180,190,190,200,200,210,220,240];
const kOnsetCR=[161,150,176,177,148,188,169,165,160,196,188,165,199,191,160,216,186,179,174,189,181,164,194,182,174,168,161,201,182,171,163,203,195,175,164,181,166,194,181,168,155,171,157,166,152,208,192,162,166,155,194,159,157,169,169];
const kMeanX=[78,124,170];
const kMeanY=[159,174,189];
const lPeakFac=[90,90,100,110,120,130,150,160,160,160,170,170,170,170,180,180,180,190,190,190,190,200,200,200,200,210,230,230,240,240,240,250,250,250,250,250,250,250,250];
const lPeakCR=[218,212,239,238,246,225,225,248,234,228,248,245,225,214,248,241,234,249,240,234,221,249,242,237,214,221,248,237,245,228,222,250,245,239,234,228,221,214,209];
const lMeanX=[175,218.6,262.6];
const lMeanY=[222,234,245.6];
const ticks0to250=[0,50,100,150,200,250];
const ticks0to200=[0,50,100,150,200];
const ticks0to300=[0,100,200,300];
const ticks50to300=[50,100,150,200,250,300];
const ticksAmp100=[0,20,40,60,80,100];
const ticksAmp90=[10,30,50,70,90];
const ticksAmp80=[0,20,40,60,80];
const corrTicks=[-250,0,250,500];

/* ---------- helpers ---------- */
const NS='http://www.w3.org/2000/svg';
function mk(tag,attrs,parent){const el=document.createElementNS(NS,tag);for(const k in attrs)el.setAttribute(k,attrs[k]);parent.appendChild(el);return el;}
function lin(d0,d1,r0,r1){return v=>r0+(v-d0)*(r1-r0)/(d1-d0);}
function poly(xs,ys,sx,sy){return xs.map((x,i)=>(i?'L':'M')+sx(x).toFixed(2)+' '+sy(ys[i]).toFixed(2)).join(' ');}
function smooth(xs,ys,sx,sy){
  const P=xs.map((x,i)=>[sx(x),sy(ys[i])]);
  const k=1/7;
  let d='M'+P[0][0].toFixed(2)+' '+P[0][1].toFixed(2);
  for(let i=0;i<P.length-1;i++){
    const p0=P[i-1]||P[i],p1=P[i],p2=P[i+1],p3=P[i+2]||p2;
    const c1x=p1[0]+(p2[0]-p0[0])*k,c1y=p1[1]+(p2[1]-p0[1])*k;
    const c2x=p2[0]-(p3[0]-p1[0])*k,c2y=p2[1]-(p3[1]-p1[1])*k;
    d+=' C'+c1x.toFixed(2)+' '+c1y.toFixed(2)+' '+c2x.toFixed(2)+' '+c2y.toFixed(2)+' '+p2[0].toFixed(2)+' '+p2[1].toFixed(2);
  }
  return d;
}
function fmtTick(v){return v<0?'\u2013'+Math.abs(v):String(v);}
function tickText(g,txt,x,y,anchor,fill,size){
  const el=mk('text',{x:x,y:y,'text-anchor':anchor},g);
  if(fill)el.style.fill=fill;
  if(size)el.style.fontSize=size+'px';
  el.textContent=txt;
  
  
  return el;
}
function axisLine(g,x1,y1,x2,y2){
  const el=mk('line',{x1:x1,y1:y1,x2:x2,y2:y2,stroke:'#000','stroke-width':1.3,'stroke-linecap':'square'},g);
  
  
  return el;
}
function tickMark(g,x1,y1,x2,y2){
  const el=mk('line',{x1:x1,y1:y1,x2:x2,y2:y2,stroke:'#000','stroke-width':1.2},g);
  
  
  return el;
}
function yAxis(g,x,sy,ticks,top,bottom,labelEnd){
  axisLine(g,x,top,x,bottom);
  ticks.forEach(t=>{tickMark(g,x,sy(t),x+5,sy(t));tickText(g,fmtTick(t),labelEnd,sy(t)+5.7,'end');});
}
function xAxis(g,y,sx,ticks,left,right,base,firstShift,lastShift){
  axisLine(g,left,y,right,y);
  ticks.forEach((t,i)=>{
    tickMark(g,sx(t),y,sx(t),y-5);
    let off=0;
    if(i===0)off=firstShift||0;
    if(i===ticks.length-1)off=lastShift||0;
    tickText(g,fmtTick(t),sx(t)+off,base,'middle');
  });
}
function frame(g,sx,sy,xTicks,yTicks,bottom,base,labelEnd){
  const left=sx(xTicks[0]),right=sx(xTicks[xTicks.length-1]),top=sy(yTicks[yTicks.length-1]);
  yAxis(g,left,sy,yTicks,top,bottom,labelEnd);
  xAxis(g,bottom,sx,xTicks,left,right,base);
}
function dots(g,xs,ys,sx,sy){
  xs.forEach((x,i)=>{
    const el=mk('ellipse',{cx:sx(x),cy:sy(ys[i]),rx:3.6,ry:3.9,fill:'#ffc4c6'},g);
    
    
  });
}
function fitLines(g,x0,x1,y0,y1,sx,sy,w){
  x0.forEach((x,i)=>{
    const el=mk('line',{x1:sx(x),y1:sy(y0[i]),x2:sx(x1[i]),y2:sy(y1[i]),stroke:'#f6001c','stroke-width':w},g);
    
    
  });
}
function hot(t){
  const r=Math.min(1,t/0.4),gg=Math.max(0,Math.min(1,(t-0.4)/0.4)),b=Math.max(0,Math.min(1,(t-0.8)/0.2));
  const R=Math.round(11+r*244),G=Math.round(gg*255),B=Math.round(b*255);
  return 'rgb('+R+','+G+','+B+')';
}
let clipId=0;
function heatmap(g,rows,x0,x1,y0,y1,filterId,maxV){
  const id='clip'+(clipId++);
  const cp=mk('clipPath',{id:id},g);
  mk('rect',{x:x0,y:y0,width:x1-x0,height:y1-y0},cp);
  const outer=mk('g',{'clip-path':'url(#'+id+')'},g);
  const bg=mk('rect',{x:x0,y:y0,width:x1-x0,height:y1-y0,fill:'#0b0000'},outer);
  
  
  const inner=mk('g',{filter:'url(#'+filterId+')','shape-rendering':'crispEdges'},outer);
  const nR=rows.length,nC=rows[0].length,cw=(x1-x0)/nC,ch=(y1-y0)/nR;
  rows.forEach((row,r)=>{
    row.forEach((v,c)=>{
      if(!v&&c!==nC-1&&c!==0)return;
      const isFirst=c===0,isLast=c===nC-1;
      const el=mk('rect',{x:x0+c*cw-(isFirst?8:0),y:y0+r*ch,width:cw+0.3+(isFirst||isLast?8:0),height:ch+0.2,fill:hot(v/maxV)},inner);
      
      
    });
  });
}
function dashed(g,x,y0,y1,color){
  const el=mk('line',{x1:x,y1:y0,x2:x,y2:y1,stroke:color,'stroke-width':2,'stroke-dasharray':'13.5 13.1','stroke-dashoffset':6.8},g);
  
  
}
function colorbar(g,x,y0,y1,w,hi,lo,labelX,baseHi,baseLo){
  const el=mk('rect',{x:x,y:y0,width:w,height:y1-y0,fill:'url(#barGrad)',stroke:'#808080','stroke-width':.8},g);
  
  
  tickText(g,hi,labelX,baseHi,'start');
  tickText(g,lo,labelX,baseLo,'start');
}
function heatPanel(g,rows,x0,x1,y0,y1,csT,usT,xScale,tickBase){
  heatmap(g,rows,x0,x1,y0,y1,'blurX',9);
  dashed(g,xScale(csT),y0,y1,'#00cc44');
  dashed(g,xScale(usT),y0,y1,'#f00020');
  tickText(g,String(csT),xScale(csT),tickBase,'middle');
  tickText(g,String(usT),xScale(usT),tickBase,'middle');
}
function topMarks(g,csX,usX,base){
  tickText(g,'CS',csX,base,'middle','#00cc55',15.5);
  tickText(g,'US',usX,base,'middle','#f00',15.5);
}
function crossBar(g,xs,ys,sx,sy){
  const c='#ff1426';
  const parts=[[sx(xs[0]),sy(ys[1]),sx(xs[2]),sy(ys[1])],[sx(xs[1]),sy(ys[0]),sx(xs[1]),sy(ys[2])],
    [sx(xs[0]),sy(ys[1])-3,sx(xs[0]),sy(ys[1])+3],[sx(xs[2]),sy(ys[1])-3,sx(xs[2]),sy(ys[1])+3],
    [sx(xs[1])-2,sy(ys[0]),sx(xs[1])+2,sy(ys[0])],[sx(xs[1])-2,sy(ys[2]),sx(xs[1])+2,sy(ys[2])]];
  parts.forEach(p=>{
    const l=mk('line',{x1:p[0],y1:p[1],x2:p[2],y2:p[3],stroke:c,'stroke-width':2.2},g);
    
    
  });
  const m=mk('ellipse',{cx:sx(xs[1]),cy:sy(ys[1]),rx:4.5,ry:4.5,fill:c},g);
  
  
}
function unity(g,sx,sy,a,b){
  const el=mk('line',{x1:sx(a),y1:sy(a),x2:sx(b),y2:sy(b),stroke:'#000','stroke-width':2,'stroke-dasharray':'14 12.7','stroke-dashoffset':9.5},g);
  
  
}

/* ---------- panel b ---------- */
(function(){
  const g=document.getElementById('panelB');
  const originX=lin(9,1,349,413.4),originY=lin(9,1,144.5,192);
  dayLabels.forEach((d,i)=>{
    const sx=t=>originX(d)+t*0.098,sy=v=>originY(d)-v*1.21;
    const T=dayTimes[i],V=dayClosure[i];
    const idx=T.map((t,k)=>k);
    const black=idx.filter(k=>T[k]<=dayCsOnset[i]);
    const green=idx.filter(k=>T[k]>=dayCsOnset[i]&&T[k]<=dayUsOnset[i]);
    const red=idx.filter(k=>T[k]>=dayUsOnset[i]);
    const pr=mk('path',{d:smooth(red.map(k=>T[k]),red.map(k=>V[k]),sx,sy),fill:'none',stroke:'#b30b0b','stroke-width':2.4,'stroke-linejoin':'round'},g);
    
    
    const pg=mk('path',{d:smooth(green.map(k=>T[k]),green.map(k=>V[k]),sx,sy),fill:'none',stroke:'#00c06a','stroke-width':2.2,'stroke-linejoin':'round'},g);
    
    
    const pb=mk('path',{d:poly(black.map(k=>T[k]),black.map(k=>V[k]),sx,sy),fill:'none',stroke:'#000','stroke-width':2.6},g);
    
    
    tickText(g,String(d),originX(d)-9,originY(d)+9.5,'middle');
  });
  const arrow=mk('line',{x1:originX(1)+6,y1:originY(1),x2:originX(9)-5,y2:originY(9)-9,stroke:'#000','stroke-width':1.2},g);
  
  
  const head=mk('polygon',{points:(originX(9)-7)+','+(originY(9)-11)+' '+(originX(9)-6)+','+(originY(9)-3)+' '+(originX(9)-1)+','+(originY(9)-5)},g);
  
  
})();

/* ---------- panel d ---------- */
function shade(g,T,V,E,sx,sy,fill,op){
  const up=T.map((t,i)=>sx(t).toFixed(2)+','+sy(V[i]+E[i]).toFixed(2));
  const dn=T.map((t,i)=>sx(t).toFixed(2)+','+sy(V[i]-E[i]).toFixed(2)).reverse();
  const el=mk('polygon',{points:up.concat(dn).join(' '),fill:fill,opacity:op},g);
  
  
}
function dPanel(g,sx,syEye,syRate,rateTicks,eyeT,eyeV,rateT,rateV,rateE,color,shadeColor,shadeOp,axisBottomY,eyeAxisX,tickEnd,band,tint){
  const rr=mk('rect',{x:sx(0),y:305,width:sx(250)-sx(0),height:295,fill:'url(#csGrad)'},g);
  
  
  const us=mk('line',{x1:sx(250)-.6,y1:305,x2:sx(250)-.6,y2:600,stroke:'url(#usGrad)','stroke-width':2.2,'stroke-dasharray':'8 3.4'},g);
  
  
  yAxis(g,eyeAxisX,syEye,eyeTicks,305,405.5,tickEnd);
  const p=mk('path',{d:smooth(eyeT,eyeV,sx,syEye),fill:'none',stroke:color,'stroke-width':2.8,'stroke-linejoin':'round'},g);
  
  
  if(tint){
    const cid='clip'+(clipId++);
    const cp=mk('clipPath',{id:cid},g);
    mk('rect',{x:sx(0),y:305,width:sx(250)-sx(0),height:100},cp);
    const tp=mk('path',{d:smooth(eyeT,eyeV,sx,syEye),fill:'none',stroke:tint,'stroke-width':2.8,'clip-path':'url(#'+cid+')'},g);
    
    
  }
  band(g);
  yAxis(g,eyeAxisX,syRate,rateTicks,488,axisBottomY,tickEnd);
  xAxis(g,axisBottomY,sx,timeTicks,eyeAxisX,sx(1010),622,6,-17);
  shade(g,rateT,rateV,rateE,sx,syRate,shadeColor,shadeOp);
  const pr=mk('path',{d:smooth(rateT,rateV,sx,syRate),fill:'none',stroke:color,'stroke-width':3,'stroke-linejoin':'round'},g);
  
  
}
(function(){
  const g=document.getElementById('panelD');
  const sxF=lin(0,250,142.4,178),sxS=lin(0,250,436.8,472.2);
  const rasterF=gr=>{
    const y0=433;
    let i=0;
    spikeTimesF.forEach((t,k)=>{
      const c=(t>=0&&t<=250)?'#b8431f':'#f02a2a';
      const d=spikeDepthF[k%spikeDepthF.length];
      const l=mk('line',{x1:sxF(t),y1:y0-d*.4,x2:sxF(t),y2:y0+d,stroke:c,'stroke-width':.65},gr);
      
      
    });
    for(let t=-500;t<=1010;t+=3){
      const a=noiseAmp[i%noiseAmp.length];
      const c=(t>=0&&t<=250)?'#b8431f':'#f80808';
      const l=mk('line',{x1:sxF(t),y1:y0-a,x2:sxF(t),y2:y0+a*.9,stroke:c,'stroke-width':.8},gr);
      
      
      i++;
    }
  };
  const rasterS=gr=>{
    const y0=428.7;
    let i=0;
    let t=-495,k=0;
    while(t<1005){
      if(!(t>212&&t<262)){
        const d=spikeDepthS[k%spikeDepthS.length];
        const l=mk('line',{x1:sxS(t),y1:y0-d*.32,x2:sxS(t),y2:y0+d,stroke:'#1010ee','stroke-width':.62},gr);
        
        
      }
      t+=spikeIntervalS[k%spikeIntervalS.length];
      k++;
    }
    for(let u=-500;u<=1005;u+=2.5){
      const a=noiseAmp[i%noiseAmp.length]*1.3;
      const l=mk('line',{x1:sxS(u),y1:y0-a-1,x2:sxS(u),y2:y0+a,stroke:'#0000f0','stroke-width':.8},gr);
      
      
      i++;
    }
  };
  dPanel(g,sxF,lin(0,100,389,315),lin(100,220,586,488),rateTicksF,eyeTimesF,eyeValuesF,rateTimesF,rateValuesF,rateErrorF,'#f50000','#ee3322',.3,602.8,70.8,63.7,rasterF,'#b8431f');
  dPanel(g,sxS,lin(0,100,390,314.4),lin(60,120,603.6,488),rateTicksS,eyeTimesS,eyeValuesS,rateTimesS,rateValuesS,rateErrorS,'#0000f0','#3366dd',.36,604,365.3,357.5,rasterS,null);
})();

/* ---------- panel e ---------- */
(function(){
  const g=document.getElementById('panelE');
  const cx=775.6,cy=433.5,r=83.5;
  const textR=[47,62,32];
  let a=50;
  const total=piePercents.reduce((s,v)=>s+v,0);
  piePercents.forEach((v,i)=>{
    const span=v/total*360,a0=a*Math.PI/180,a1=(a+span)*Math.PI/180;
    const p=mk('path',{d:'M'+cx+' '+cy+' L'+(cx+r*Math.sin(a0))+' '+(cy-r*Math.cos(a0))+' A'+r+' '+r+' 0 '+(span>180?1:0)+' 1 '+(cx+r*Math.sin(a1))+' '+(cy-r*Math.cos(a1))+' Z',fill:pieColors[i],stroke:'#000','stroke-width':2.2,'stroke-linejoin':'round'},g);
    
    
    const mid=(a+span/2)*Math.PI/180;
    const t=mk('text',{x:cx+textR[i]*Math.sin(mid),y:cy-textR[i]*Math.cos(mid)+6,'text-anchor':'middle'},g);
    t.style.fill=pieTextColors[i];
    t.style.fontSize='18.4px';
    t.textContent=v+'%';
    
    
    a+=span;
  });
})();

/* ---------- panels f and h ---------- */
(function(){
  const g=document.getElementById('panelF');
  topMarks(g,63.7,142,695.6);
  topMarks(g,243.4,324,695.6);
  heatPanel(g,heatFacilitationF,43.3,158.4,705,919.6,0,250,lin(0,250,61,144.6),937.8);
  heatPanel(g,heatEyelidF,224,339,705,919.6,0,250,lin(0,250,239.6,323.4),937.8);
  colorbar(g,163.5,705,919.6,9,'180','50',180,712.8,916.5);
  colorbar(g,344.5,705,919.6,9,'90','20',361,712.8,916.5);
  tickText(g,'34',35.6,723,'end');
  tickText(g,'1',33.9,916.6,'end');
  const h=document.getElementById('panelH');
  topMarks(h,63.7,142,1011);
  topMarks(h,243.4,324,1011);
  heatPanel(h,heatFacilitationH,43.3,158.4,1020.6,1234.8,0,250,lin(0,250,58.8,142.3),1252.8);
  heatPanel(h,heatEyelidH,224,339,1020.6,1234.8,0,250,lin(0,250,239.6,323.4),1252.8);
  colorbar(h,163.5,1020.4,1235,9,'160','40',181,1032,1237.7);
  colorbar(h,344.5,1020.4,1235,9,'80','10',360.5,1032,1237.7);
  tickText(h,'39',36.9,1042.8,'end');
  tickText(h,'1',35,1238,'end');
})();

/* ---------- scatter / fit panels ---------- */
(function(){
  const fs=document.getElementById('panelFS');
  const fsx=lin(0,250,466.4,657.4),fsy=lin(0,100,918.7,704.5);
  dots(fs,fsPeak,fsAmp,fsx,fsy);
  frame(fs,fsx,fsy,ticks0to250,ticksAmp100.slice(1),918.7,938,458);
  fitLines(fs,[fsFitX[0]],[fsFitX[1]],[fsFitY[0]],[fsFitY[1]],fsx,fsy,2.7);

  const gg=document.getElementById('panelG');
  const gx=lin(0,250,755.7,946.3),gy=lin(10,90,894.8,704.5);
  frame(gg,gx,gy,ticks0to250,ticksAmp90,918.7,938,748);
  fitLines(gg,gFitX0,gFitX1,gFitY0,gFitY1,gx,gy,2.7);

  const hs=document.getElementById('panelHS');
  const hsx=lin(0,200,466.4,657.4),hsy=lin(0,100,1233.7,1019.5);
  dots(hs,hsPeak,hsAmp,hsx,hsy);
  frame(hs,hsx,hsy,ticks0to200,ticksAmp100.slice(1),1233.7,1253.3,458);
  fitLines(hs,[hsFitX[0]],[hsFitX[1]],[hsFitY[0]],[hsFitY[1]],hsx,hsy,3);

  const ii=document.getElementById('panelI');
  const ix=lin(0,300,755.7,947),iy=lin(0,80,1233.7,1019.5);
  frame(ii,ix,iy,ticks0to300,ticksAmp80,1233.7,1253.3,748);
  fitLines(ii,iFitX0,iFitX1,iFitY0,iFitY1,ix,iy,2.7);

  const kk=document.getElementById('panelK');
  const kx=lin(0,250,465.4,656.6),ky=lin(0,250,1517.6,1326.7);
  dots(kk,kOnsetFac,kOnsetCR,kx,ky);
  unity(kk,kx,ky,0,250);
  frame(kk,kx,ky,ticks0to250,ticks0to250,1517.6,1537.8,457.3);
  crossBar(kk,kMeanX,kMeanY,kx,ky);

  const ll=document.getElementById('panelL');
  const lx=lin(50,300,755,946),ly=lin(50,300,1519,1328);
  dots(ll,lPeakFac,lPeakCR,lx,ly);
  unity(ll,lx,ly,50,300);
  frame(ll,lx,ly,ticks50to300,ticks50to300,1519,1538.8,746.8);
  crossBar(ll,lMeanX,lMeanY,lx,ly);
})();

/* ---------- panel j ---------- */
(function(){
  const g=document.getElementById('panelJ');
  const x0=70.3,x1=261.7,y0=1328.3,y1=1520;
  heatmap(g,heatCorrelation,x0,x1,y0,y1,'blurJ',9);
  const sx=lin(-250,500,x0,x1),sy=lin(-250,500,y1,y0);
  const cid='clip'+(clipId++);
  const cp=mk('clipPath',{id:cid},g);
  mk('rect',{x:x0,y:y0,width:x1-x0,height:y1-y0},cp);
  const lines=mk('g',{'clip-path':'url(#'+cid+')',stroke:'#fff','stroke-width':2},g);
  corrTicks.slice(1,3).forEach(t=>{
    const v=mk('line',{x1:sx(t),y1:y0,x2:sx(t),y2:y1,'stroke-dasharray':'15.5 10.5','stroke-dashoffset':8},lines);
    
    
    const h=mk('line',{x1:x0,y1:sy(t),x2:x1,y2:sy(t),'stroke-dasharray':'15.3 12','stroke-dashoffset':7},lines);
    
    
  });
  const d=mk('line',{x1:sx(-250),y1:sy(-250),x2:sx(500),y2:sy(500),'stroke-dasharray':'15 13.5','stroke-dashoffset':10},lines);
  
  
  tickText(g,'500',63,1341.5,'end');
  tickText(g,'250',63,1397.7,'end');
  tickText(g,'0',63,1460.7,'end');
  tickText(g,'\u2013250',63,1521.7,'end');
  tickText(g,'\u2013250',76.4,1538.4,'middle');
  tickText(g,'0',134.4,1538.4,'middle');
  tickText(g,'250',199.4,1538.4,'middle');
  tickText(g,'500',261.7,1538.4,'middle');
  colorbar(g,287,1330,1521.6,9,'0.07','0.03',304.3,1343.4,1514.8);
})();
</script>
</body>
</html>
